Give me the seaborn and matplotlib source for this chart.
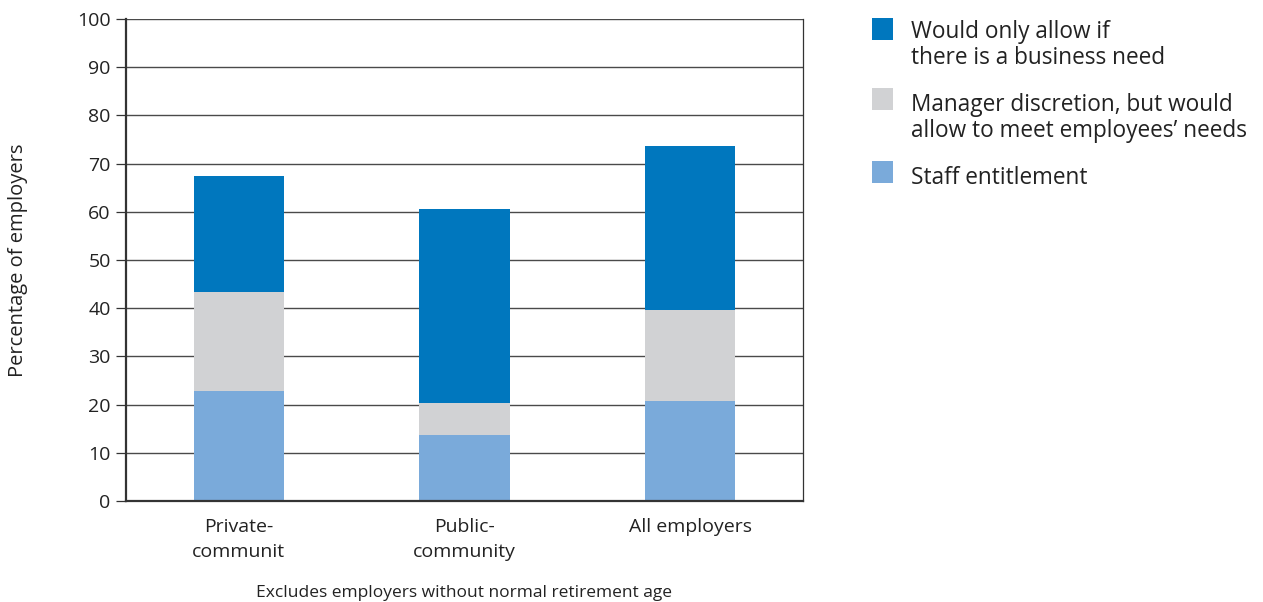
import numpy as np
import pandas as pd
import matplotlib
matplotlib.use("Agg")
import matplotlib.pyplot as plt
from matplotlib.patches import Rectangle
import seaborn as sns

# Data
categories = ["Private-\ncommunit", "Public-\ncommunity", "All employers"]
staff_entitlement = [22.8, 13.7, 20.7]
manager_discretion = [20.5, 6.6, 18.9]
business_need = [24.1, 40.3, 34.0]
series_labels = [
    "Would only allow if\nthere is a business need",
    "Manager discretion, but would\nallow to meet employees\u2019 needs",
    "Staff entitlement",
]
yticks = list(range(0, 101, 10))

c_business = "#0077BE"
c_manager = "#D1D2D4"
c_staff = "#7AAADA"
txt = "#222222"

sns.set_theme(style="white")
plt.rcParams["font.family"] = ["Open Sans", "DejaVu Sans"]

W, H = 1263, 602
fig = plt.figure(figsize=(W / 100, H / 100), dpi=100)
ax = fig.add_axes([126 / W, 1 - 501 / H, (803 - 126) / W, (501 - 19) / H])

staff = np.array(staff_entitlement)
mgr_top = staff + np.array(manager_discretion)
total = mgr_top + np.array(business_need)

df = pd.DataFrame({
    "cat": categories,
    "total": total,
    "mgr_top": mgr_top,
    "staff": staff,
})

# Stacked bars drawn as overlapping cumulative heights
for col, colr in [("total", c_business), ("mgr_top", c_manager), ("staff", c_staff)]:
    sns.barplot(data=df, x="cat", y=col, color=colr, width=0.40,
                saturation=1, ax=ax, zorder=2, linewidth=0)

ax.set_xlim(-0.5, 2.5)
ax.set_ylim(0, 100)
ax.set_yticks(yticks)
ax.set_yticklabels([str(t) for t in yticks], fontsize=14, color=txt)
ax.yaxis.grid(True, color="#4a4a4a", linewidth=1.0, zorder=0)
ax.set_axisbelow(True)

# Category ticks at boundaries, labels at centres
ax.set_xticks([0, 1, 2])
ax.set_xticklabels(categories, fontsize=14, color=txt, linespacing=1.5)
ax.tick_params(axis="x", length=0, pad=12)
ax.set_xticks([-0.5, 0.5, 1.5, 2.5], minor=True)
ax.tick_params(axis="x", which="minor", length=8, width=0.9, color="#333333", direction="out")
ax.tick_params(axis="y", length=7, width=0.9, color="#333333", direction="out", left=True, pad=4)

for side in ["left", "right", "bottom"]:
    ax.spines[side].set_visible(True)
    ax.spines[side].set_color("#333333")
ax.spines["left"].set_linewidth(1.6)
ax.spines["bottom"].set_linewidth(1.6)
ax.spines["right"].set_linewidth(0.9)
ax.spines["top"].set_visible(False)

ax.set_xlabel("")
ax.set_ylabel("")
fig.text(18 / W, 1 - 260 / H, "Percentage of employers", rotation=90,
         ha="center", va="center", fontsize=14.5, color=txt)
fig.text(464 / W, 1 - 593 / H, "Excludes employers without normal retirement age",
         ha="center", va="center", fontsize=12.5, color=txt)

# Legend: square swatch level with the first line of each entry
legend_colors = [c_business, c_manager, c_staff]
swatch_tops = [18, 88, 161]
first_baselines = [38, 111, 184]
line_step = 26
for colr, top, base, label in zip(legend_colors, swatch_tops, first_baselines, series_labels):
    fig.add_artist(Rectangle((872 / W, 1 - (top + 22) / H), 21 / W, 22 / H,
                             transform=fig.transFigure, facecolor=colr,
                             edgecolor="none"))
    for i, line in enumerate(label.split("\n")):
        fig.text(911 / W, 1 - (base + i * line_step) / H, line,
                 ha="left", va="baseline", fontsize=16.3, color=txt)

fig.savefig("out.png", dpi=100)
